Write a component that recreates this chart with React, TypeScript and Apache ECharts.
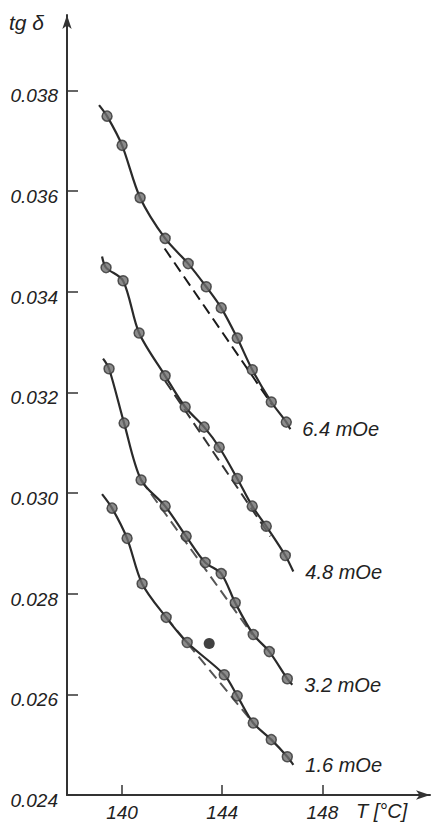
import React, { useEffect, useRef } from "react";
import * as echarts from "echarts";

type P = [number, number];

const xTicks = [140, 144, 148];
const yTicks = [0.024, 0.026, 0.028, 0.03, 0.032, 0.034, 0.036, 0.038];
const fieldLabels = ["6.4 mOe", "4.8 mOe", "3.2 mOe", "1.6 mOe"];

const pts64: P[] = [[139.4, 0.03749], [140.0, 0.03691], [140.72, 0.03587], [141.72, 0.03506], [142.64, 0.03456], [143.36, 0.0341], [143.96, 0.03368], [144.6, 0.03308], [145.2, 0.03245], [145.96, 0.03181], [146.56, 0.03141]];
const ends64: P[] = [[139.08, 0.03771], [146.72, 0.03127]];
const dash64: P[] = [[141.7, 0.03486], [146.0, 0.03175]];

const pts48: P[] = [[139.36, 0.03448], [140.04, 0.03422], [140.68, 0.03318], [141.72, 0.03233], [142.52, 0.03171], [143.28, 0.03131], [143.88, 0.03091], [144.6, 0.03029], [145.2, 0.02974], [145.76, 0.02934], [146.52, 0.02876]];
const ends48: P[] = [[139.2, 0.0347], [146.84, 0.02844]];
const dash48: P[] = [[141.72, 0.03223], [145.92, 0.02914]];

const pts32: P[] = [[139.48, 0.03247], [140.08, 0.03139], [140.76, 0.03026], [141.72, 0.02974], [142.56, 0.02914], [143.32, 0.02862], [143.96, 0.0284], [144.52, 0.02782], [145.24, 0.02719], [145.88, 0.02685], [146.6, 0.02631]];
const ends32: P[] = [[139.24, 0.03267], [146.8, 0.02619]];
const dash32: P[] = [[140.76, 0.03026], [145.2, 0.02719]];

const pts16: P[] = [[139.6, 0.0297], [140.2, 0.0291], [140.8, 0.0282], [141.76, 0.02753], [142.6, 0.02703], [144.08, 0.02639], [144.6, 0.02597], [145.24, 0.02543], [145.96, 0.0251], [146.6, 0.02476]];
const ends16: P[] = [[139.2, 0.02998], [146.84, 0.0246]];
const dash16: P[] = [[141.76, 0.02753], [145.24, 0.02543]];

const outlier: P[] = [[143.48, 0.02701]];

const FONT = "Liberation Sans";

export default function App() {
  const ref = useRef<HTMLDivElement>(null);
  useEffect(() => {
    if (!ref.current) return;
    const chart = echarts.init(ref.current, null, { renderer: "svg" });
    const groups = [
      { pts: pts64, ends: ends64, dash: dash64, label: fieldLabels[0], dashColor: "#1a1a1a" },
      { pts: pts48, ends: ends48, dash: dash48, label: fieldLabels[1], dashColor: "#333" },
      { pts: pts32, ends: ends32, dash: dash32, label: fieldLabels[2], dashColor: "#555" },
      { pts: pts16, ends: ends16, dash: dash16, label: fieldLabels[3], dashColor: "#555" },
    ];
    const series: any[] = [];
    groups.forEach((g) => {
      series.push({
        type: "line",
        data: [g.dash[0], g.dash[1]],
        showSymbol: false,
        lineStyle: { color: g.dashColor, width: 2, type: [11, 6] },
        z: 2,
      });
      series.push({
        type: "line",
        data: [g.ends[0], ...g.pts, g.ends[1]],
        smooth: 0.3,
        showSymbol: false,
        lineStyle: { color: "#2a2a2a", width: 2.2 },
        endLabel: {
          show: true,
          formatter: g.label,
          distance: 12,
          fontFamily: FONT,
          fontStyle: "italic",
          fontSize: 20,
          color: "#222",
        },
        z: 3,
      });
      series.push({
        type: "scatter",
        data: g.pts,
        symbolSize: 10,
        itemStyle: { color: "#6e6e6e", borderColor: "#333", borderWidth: 1.5 },
        z: 4,
      });
    });
    series.push({
      type: "scatter",
      data: outlier,
      symbolSize: 11,
      itemStyle: { color: "#111" },
      z: 5,
    });

    chart.setOption({
      animation: false,
      backgroundColor: "#fff",
      grid: { left: 67, right: 5, top: 15, bottom: 28, containLabel: false },
      xAxis: {
        type: "value",
        min: 137.8,
        max: 152.3,
        splitLine: { show: false },
        axisLine: {
          show: true,
          lineStyle: { color: "#333", width: 2 },
          symbol: ["none", "arrow"],
          symbolSize: [7, 14],
        },
        axisTick: { show: true, inside: true, length: 10, customValues: xTicks, lineStyle: { color: "#333", width: 1.5 } },
        axisLabel: {
          customValues: xTicks,
          margin: 8,
          fontFamily: FONT,
          fontStyle: "italic",
          fontSize: 19,
          color: "#222",
        },
      },
      yAxis: {
        type: "value",
        min: 0.024,
        max: 0.0395,
        splitLine: { show: false },
        axisLine: {
          show: true,
          lineStyle: { color: "#333", width: 2 },
          symbol: ["none", "arrow"],
          symbolSize: [7, 14],
        },
        axisTick: { show: true, inside: true, length: 11, customValues: yTicks, lineStyle: { color: "#333", width: 1.5 } },
        axisLabel: {
          customValues: yTicks,
          margin: 9,
          formatter: (v: number) => "{a|" + v.toFixed(3) + "}",
          rich: {
            a: {
              fontFamily: FONT,
              fontStyle: "italic",
              fontSize: 19,
              color: "#222",
              padding: [11, 0, 0, 0],
            },
          },
        },
      },
      graphic: [
        {
          type: "text",
          left: 9,
          top: 12,
          style: { text: "tg δ", fontFamily: FONT, fontStyle: "italic", fontSize: 21, fill: "#222" },
        },
        {
          type: "text",
          left: 356,
          top: 801,
          style: { text: "T [°C]", fontFamily: FONT, fontStyle: "italic", fontSize: 20, fill: "#222" },
        },
      ],
      series,
    });
    return () => chart.dispose();
  }, []);
  return (
    <div
      ref={ref}
      style={{ position: "fixed", left: 0, top: 0, width: 435, height: 823, background: "#fff" }}
    />
  );
}
